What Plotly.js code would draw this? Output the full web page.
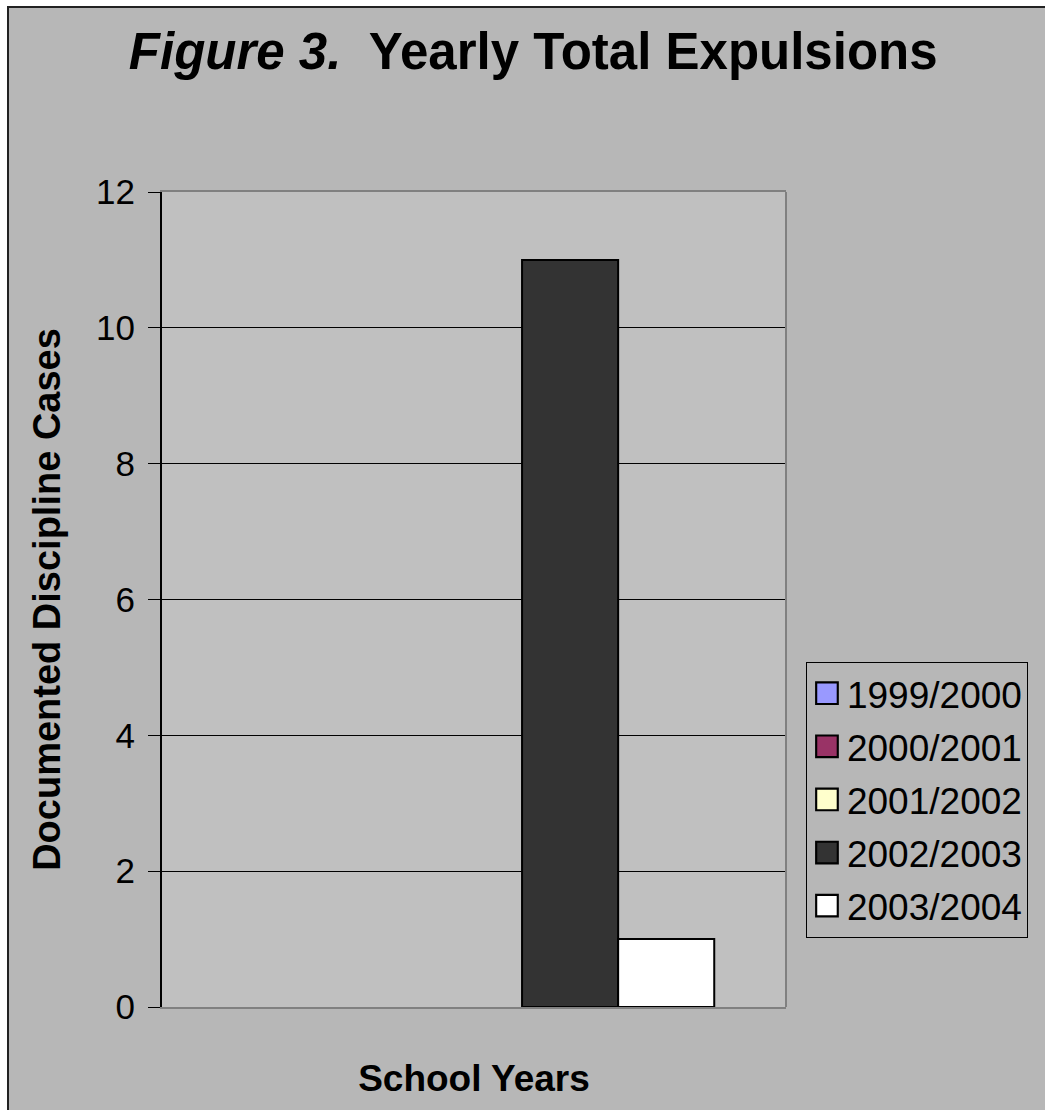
<!DOCTYPE html>
<html>
<head>
<meta charset="utf-8">
<script src="https://cdn.plot.ly/plotly-3.0.1.min.js"></script>
<style>
  html, body { margin: 0; padding: 0; background: #ffffff; }
  #chart {
    position: absolute; left: 7px; top: 6px;
    width: 1038px; height: 1104px; box-sizing: border-box;
    border-left: 2px solid #222; border-top: 2px solid #222;
  }
</style>
</head>
<body>
<div id="chart"></div>
<script>
// ---- data ----
const categories = ['School Years'];
const seriesNames = ['1999/2000', '2000/2001', '2001/2002', '2002/2003', '2003/2004'];
const expulsions = [0, 0, 0, 11, 1];
const seriesColors = ['#9999ff', '#993366', '#ffffcc', '#333333', '#ffffff'];
const yTicks = [0, 2, 4, 6, 8, 10, 12];

const traces = seriesNames.map((name, i) => ({
  type: 'bar',
  name: name,
  x: categories,
  y: [expulsions[i]],
  marker: {
    color: seriesColors[i],
    line: { color: '#000000', width: expulsions[i] === 0 ? 0 : 2 }
  },
  legendgroup: 'g' + i,
  hoverinfo: 'name+y'
}));

const layout = {
  width: 1036,
  height: 1102,
  paper_bgcolor: '#b7b7b7',
  plot_bgcolor: '#c0c0c0',
  font: { family: 'Arial, "Liberation Sans", sans-serif', color: '#000000' },
  margin: { l: 153, r: 259, t: 184, b: 103 },
  barmode: 'group',
  bargap: 0.23,
  bargroupgap: 0,
  title: {
    text: '<b><i>Figure 3.</i>\u00a0 Yearly Total Expulsions</b>',
    font: { size: 51, color: '#000000' },
    xref: 'container', x: 0.506, xanchor: 'center',
    yref: 'container', y: 0.961, yanchor: 'middle'
  },
  xaxis: {
    type: 'category',
    showticklabels: false,
    ticks: '',
    showgrid: false,
    zeroline: false,
    showline: true,
    linecolor: '#808080',
    linewidth: 2,
    mirror: true,
    title: { text: '<b>School Years</b>\u00a0\u00a0', font: { size: 37 }, standoff: 57 }
  },
  yaxis: {
    range: [0, 12],
    tickvals: yTicks,
    ticktext: yTicks.map(String),
    ticks: 'outside',
    ticklen: 12,
    tickwidth: 1,
    tickcolor: '#000000',
    ticklabelstandoff: 6,
    tickfont: { size: 35 },
    showgrid: true,
    gridcolor: '#000000',
    gridwidth: 1,
    zeroline: false,
    showline: true,
    linecolor: '#000000',
    linewidth: 2,
    title: { text: '<b>Documented Discipline Cases</b>', font: { size: 38 }, standoff: 24 }
  },
  shapes: [
    { type: 'line', xref: 'paper', yref: 'paper', x0: 1, x1: 1, y0: 0, y1: 1,
      line: { color: '#808080', width: 2 } }
  ],
  showlegend: true,
  legend: {
    x: 1.032, xanchor: 'left',
    y: 0.4237, yanchor: 'top',
    bgcolor: '#b7b7b7',
    bordercolor: '#000000',
    borderwidth: 1,
    font: { size: 37, color: '#000000' },
    traceorder: 'grouped',
    tracegroupgap: 2
  }
};

function enlargeSwatches() {
  document.querySelectorAll('#chart .legendpoints path').forEach(p => {
    if (!p.dataset.origTransform) {
      p.dataset.origTransform = p.getAttribute('transform') || ' ';
    }
    const t = p.dataset.origTransform.trim();
    p.setAttribute('transform', (t ? t + ' ' : '') + 'scale(1.8)');
    p.style.stroke = '#000000';
    p.style.strokeWidth = '1.2px';
  });
}

const gd = document.getElementById('chart');
Plotly.newPlot(gd, traces, layout, { displayModeBar: false }).then(() => {
  enlargeSwatches();
  gd.on('plotly_afterplot', enlargeSwatches);
  setTimeout(enlargeSwatches, 200);
  setTimeout(enlargeSwatches, 800);
});
</script>
</body>
</html>
